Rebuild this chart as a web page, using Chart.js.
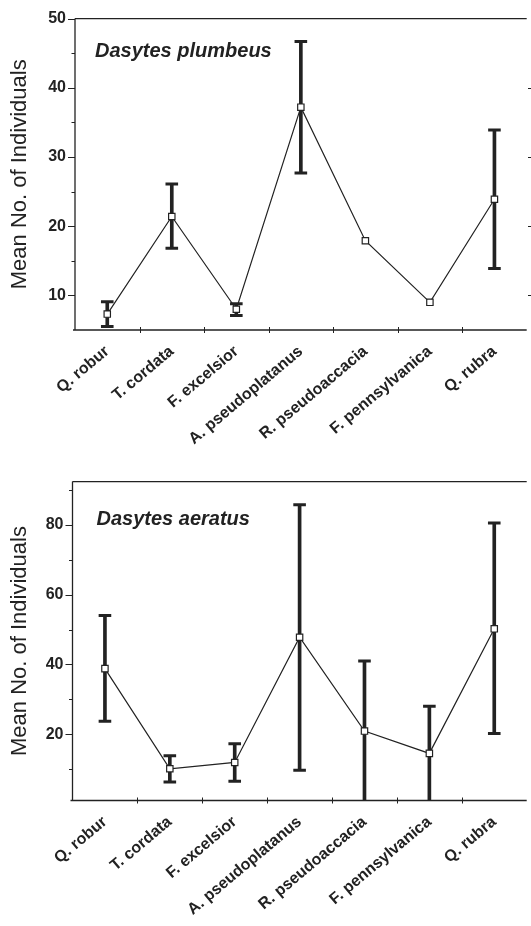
<!DOCTYPE html>
<html>
<head>
<meta charset="utf-8">
<title>Dasytes – mean no. of individuals per tree species</title>
<script src="https://cdn.jsdelivr.net/npm/chart.js@4.4.1/dist/chart.umd.min.js"></script>
<style>
  html, body { margin: 0; padding: 0; background: #fff; overflow: hidden; }
  canvas { display: block; }
</style>
</head>
<body>
<canvas id="plumbeus" width="536" height="463"></canvas>
<canvas id="aeratus" width="536" height="463"></canvas>
<script>
/* Średnia liczba osobników na gatunek drzewa, z przedziałami */
const trees = ['Q. robur', 'T. cordata', 'F. excelsior', 'A. pseudoplatanus',
               'R. pseudoaccacia', 'F. pennsylvanica', 'Q. rubra']

// Dasytes plumbeus
const plumbeusMean = [7.3, 21.4, 8.0, 37.2, 17.9, 9.0, 23.9]
const plumbeusLow  = [5.5, 16.8, 7.1, 27.7, null, null, 13.9]
const plumbeusHigh = [9.1, 26.1, 8.8, 46.7, null, null, 33.9]
const plumbeusTicks = [10, 20, 30, 40, 50]
const plumbeusMinor = [15, 25, 35, 45]

// Dasytes aeratus
const aeratusMean = [38.8, 10.1, 11.9, 47.8, 20.9, 14.5, 50.2]
const aeratusLow  = [23.7, 6.3, 6.5, 9.7, 0.5, 0.5, 20.2]
const aeratusHigh = [54.0, 13.8, 17.3, 85.8, 41.0, 28.0, 80.5]
const aeratusTicks = [20, 40, 60, 80]
const aeratusMinor = [10, 30, 50, 70, 90]

const ink = '#222'
Chart.defaults.font.family = '"Liberation Sans", Arial, Helvetica, sans-serif'
Chart.defaults.color = ink

// ramka, kreski podziałki i nazwa gatunku w rogu
const framePlugin = {
  id: 'frame',
  afterDraw (chart, args, o) {
    const { ctx, chartArea: a, scales: { x, y } } = chart
    ctx.save()
    ctx.strokeStyle = ink
    ctx.lineWidth = 1.3
    ctx.beginPath()
    ctx.moveTo(a.left, a.top);      ctx.lineTo(a.right, a.top)
    ctx.moveTo(a.left, a.top);      ctx.lineTo(a.left, a.bottom)
    ctx.moveTo(a.left - 2, a.bottom); ctx.lineTo(a.right, a.bottom)
    ctx.stroke()

    ctx.lineWidth = 1
    ctx.beginPath()
    o.major.forEach(v => {
      const py = Math.round(y.getPixelForValue(v)) + .5
      ctx.moveTo(a.left - 7, py); ctx.lineTo(a.left, py)
      if (o.edge && v < y.max) { ctx.moveTo(o.edge - 3, py); ctx.lineTo(o.edge, py) }
    })
    o.minor.forEach(v => {
      const py = Math.round(y.getPixelForValue(v)) + .5
      ctx.moveTo(a.left - 3.5, py); ctx.lineTo(a.left, py)
    })
    for (let i = 1; i < trees.length; i++) {
      const px = Math.round((x.getPixelForValue(i - 1) + x.getPixelForValue(i)) / 2) + .5
      ctx.moveTo(px, a.bottom - 3); ctx.lineTo(px, a.bottom + 3)
    }
    ctx.stroke()

    ctx.fillStyle = ink
    ctx.font = 'italic bold 20px "Liberation Sans", Arial, sans-serif'
    ctx.textBaseline = 'alphabetic'
    ctx.fillText(o.title, a.left + o.titleX, a.top + o.titleY)
    ctx.restore()
  }
}

function makeChart (id, cfg) {
  const { mean, low, high, min, max, major, minor } = cfg
  return new Chart(document.getElementById(id), {
    type: 'line',
    data: {
      labels: trees,
      datasets: [
        {
          // średnia
          data: mean,
          order: 0,
          borderColor: ink,
          borderWidth: 1.2,
          pointStyle: 'rect',
          pointRadius: 4.5,
          pointBorderWidth: 1.2,
          pointBackgroundColor: '#fff',
          pointBorderColor: ink,
          clip: 6
        },
        {
          // słupki błędu
          type: 'bar',
          data: low.map((l, i) => l == null ? null : [l, high[i]]),
          order: 2,
          backgroundColor: ink,
          barThickness: 3,
          clip: 0
        },
        {
          // wąsy – górne
          data: high,
          order: 1,
          showLine: false,
          pointStyle: 'line',
          pointRadius: 6.3,
          pointBorderWidth: 3,
          pointBorderColor: ink,
          clip: 0
        },
        {
          // wąsy – dolne
          data: low,
          order: 1,
          showLine: false,
          pointStyle: 'line',
          pointRadius: 6.3,
          pointBorderWidth: 3,
          pointBorderColor: ink,
          clip: 0
        }
      ]
    },
    options: {
      responsive: false,
      animation: false,
      events: [],
      layout: { padding: { top: cfg.top, left: 0, right: 0, bottom: 0 } },
      plugins: {
        legend: { display: false },
        tooltip: { enabled: false },
        frame: { major, minor, title: cfg.title, titleX: cfg.titleX, titleY: cfg.titleY, edge: cfg.edge }
      },
      scales: {
        x: {
          offset: true,
          afterFit: s => { s.height = cfg.xHeight },
          grid: { display: false, drawTicks: false },
          border: { display: false },
          ticks: {
            autoSkip: false, minRotation: 40, maxRotation: 40, padding: 12,
            color: ink, font: { size: 16, weight: 'bold' }
          }
        },
        y: {
          min, max,
          afterBuildTicks: s => { s.ticks = major.map(v => ({ value: v })) },
          afterFit: s => { s.width = cfg.yWidth },
          grid: { display: false, drawTicks: false },
          border: { display: false },
          ticks: { padding: 9, color: ink, font: { size: 16, weight: 'bold' } },
          title: {
            display: true,
            text: 'Mean No. of Individuals',
            color: ink,
            font: { size: 22 },
            padding: { top: 7, bottom: 0 }
          }
        }
      }
    },
    plugins: [framePlugin]
  })
}

makeChart('plumbeus', {
  mean: plumbeusMean, low: plumbeusLow, high: plumbeusHigh,
  min: 5, max: 50, major: plumbeusTicks, minor: plumbeusMinor,
  title: 'Dasytes plumbeus', titleX: 20, titleY: 38,
  top: 15.5, xHeight: 133, yWidth: 75, edge: 531
})

makeChart('aeratus', {
  mean: aeratusMean, low: aeratusLow, high: aeratusHigh,
  min: 1, max: 92.4, major: aeratusTicks, minor: aeratusMinor,
  title: 'Dasytes aeratus', titleX: 24, titleY: 43,
  top: 17.5, xHeight: 125.5, yWidth: 72.5
})
</script>
</body>
</html>
